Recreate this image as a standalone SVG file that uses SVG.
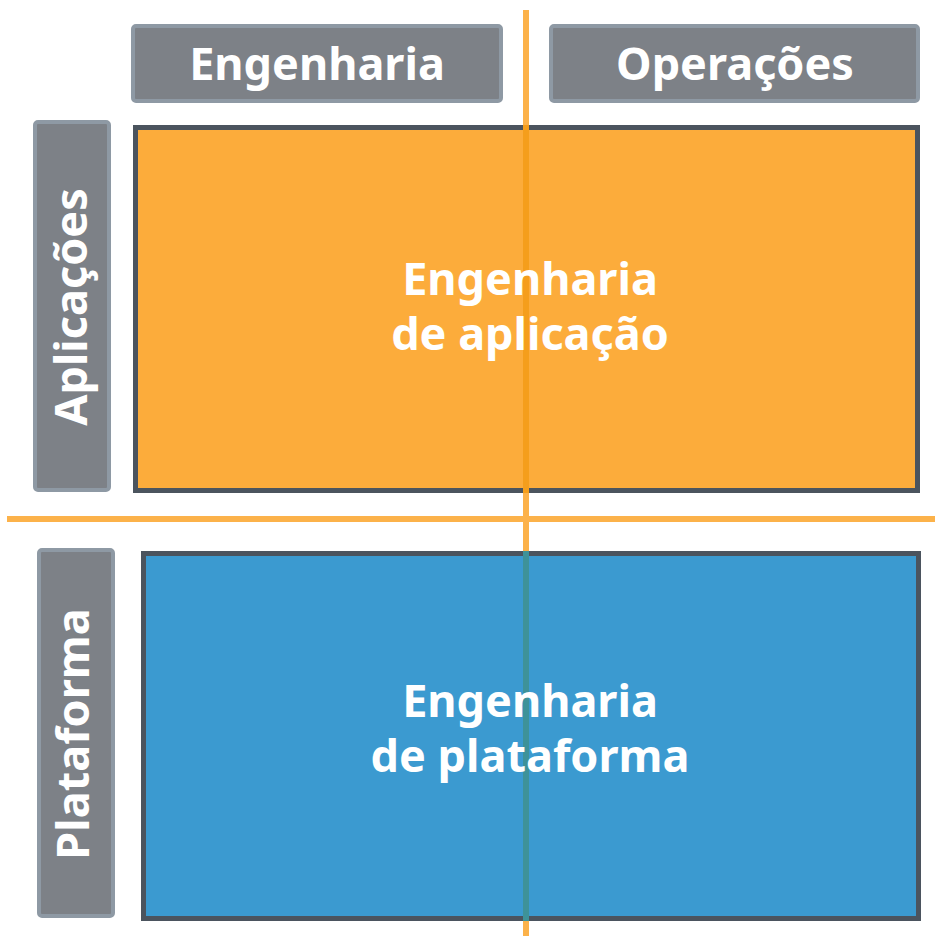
<svg xmlns="http://www.w3.org/2000/svg" width="935" height="936" viewBox="0 0 935 936">
<style>
.hdr{fill:#7d8187;stroke:#8e99a4;stroke-width:4}
.txt{font-family:"Noto Sans","Open Sans",sans-serif;font-weight:bold;font-size:45px;fill:#ffffff;text-anchor:middle}
.big{stroke:#4b545e;stroke-width:5}
</style>
<rect width="935" height="936" fill="#ffffff"/>
<g id="header-engenharia">
<rect class="hdr" x="133" y="26" width="368" height="75" rx="3"/>
<text class="txt" x="317" y="80">Engenharia</text>
</g>
<g id="header-operacoes">
<rect class="hdr" x="551" y="26" width="367" height="75" rx="3"/>
<text class="txt" x="735" y="80">Operações</text>
</g>
<g id="side-aplicacoes">
<rect class="hdr" x="35" y="122" width="74" height="368" rx="3"/>
<text class="txt" transform="translate(87,307) rotate(-90)">Aplicações</text>
</g>
<g id="side-plataforma">
<rect class="hdr" x="39" y="550" width="74" height="366" rx="3"/>
<text class="txt" transform="translate(89,734) rotate(-90)">Plataforma</text>
</g>
<g id="app-eng">
<rect class="big" x="135.5" y="127.5" width="782" height="363" fill="#fcac3b"/>
</g>
<g id="plat-eng">
<rect class="big" x="143.5" y="553.5" width="775" height="365" fill="#3b9ad0"/>
</g>
<g id="connectors">
<line x1="526" y1="10" x2="526" y2="936" stroke="#fcb24a" stroke-width="6"/>
<line x1="7" y1="519" x2="935" y2="519" stroke="#fcb24a" stroke-width="6"/>
<line x1="526" y1="125" x2="526" y2="493" stroke="#f59e1c" stroke-width="6"/>
<line x1="526" y1="551" x2="526" y2="921" stroke="#3e9299" stroke-width="6"/>
</g>
<g id="labels">
<text class="txt" x="530" y="295">Engenharia</text>
<text class="txt" x="530" y="350">de aplicação</text>
<text class="txt" x="530" y="717">Engenharia</text>
<text class="txt" x="530" y="772">de plataforma</text>
</g>
</svg>
